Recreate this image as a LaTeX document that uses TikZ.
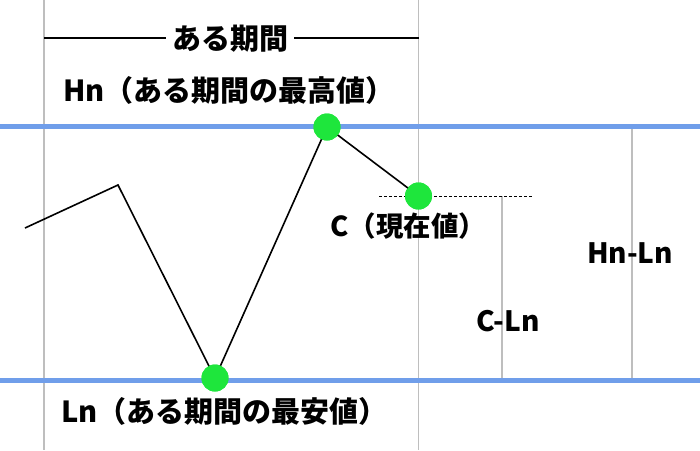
\documentclass[tikz,border=0pt]{standalone}
\usepackage{fontspec}
\newfontfamily\jp{Noto Sans CJK JP}
\definecolor{bandblue}{RGB}{112,158,234}
\definecolor{dotgreen}{RGB}{30,230,60}
\definecolor{guidegray}{RGB}{190,190,190}
\begin{document}
\begin{tikzpicture}[x=1pt,y=-1pt,
  guide/.style={draw=guidegray,line width=1.8pt},
  band/.style={draw=bandblue,line width=5pt},
  price/.style={draw=black,line width=1.6pt,line join=miter},
  dot/.style={circle,fill=dotgreen,inner sep=0pt,minimum size=27pt},
  lbl/.style={font=\jp\bfseries\fontsize{29}{32}\selectfont,inner sep=0pt,text=black},
  lblc/.style={font=\jp\bfseries\fontsize{27.5}{32}\selectfont,inner sep=0pt,text=black},
  lblsm/.style={font=\jp\bfseries\fontsize{28}{32}\selectfont,inner sep=0pt,text=black}]
\useasboundingbox (0,0) rectangle (700,450);
\fill[white] (0,0) rectangle (700,450);
% full-height guides
\coordinate (g1t) at (44,0);   \coordinate (g1b) at (44,450);
\coordinate (g2t) at (418.5,0); \coordinate (g2b) at (418.5,450);
\draw[guide] (g1t) -- (g1b);
\draw[guide] (g2t) -- (g2b);
% range guides
\coordinate (c1t) at (502,196); \coordinate (c1b) at (502,380);
\coordinate (c2t) at (632,128); \coordinate (c2b) at (632,380);
\draw[guide] (c1t) -- (c1b);
\draw[guide] (c2t) -- (c2b);
% blue bands
\coordinate (hl) at (0,126); \coordinate (hr) at (700,126);
\coordinate (ll) at (0,380); \coordinate (lr) at (700,380);
\draw[band] (hl) -- (hr);
\draw[band] (ll) -- (lr);
% period line
\coordinate (pl) at (44,38); \coordinate (pr) at (418.5,38);
\draw[black,line width=1.5pt] (pl) -- (pr);
\node[lbl,fill=white,inner xsep=6pt] (period) at (230,39) {ある期間};
% dashed level of C
\coordinate (dl) at (379,196); \coordinate (dr) at (533,196);
\draw[black,line width=0.8pt,dash pattern=on 3pt off 2pt] (dl) -- (dr);
% price path
\coordinate (p0) at (25,228);
\coordinate (p1) at (118,185);
\node[dot] (lo) at (215,378) {};
\node[dot] (hi) at (327,127) {};
\node[dot] (cur) at (418.5,196) {};
\draw[price] (p0) -- (p1) -- (lo.center) -- (hi.center) -- (cur.center);
\node[dot] at (lo) {};
\node[dot] at (hi) {};
\node[dot] at (cur) {};
% labels
\node[lbl,anchor=west] (hn) at (63,90) {Hn（ある期間の最高値）};
\node[lbl,anchor=west] (ln) at (61,411) {Ln（ある期間の最安値）};
\node[lblc,anchor=west] (cl) at (330,226) {C（現在値）};
\node[lblsm] (cln) at (508,321) {C-Ln};
\node[lblsm] (hnln) at (630,253) {Hn-Ln};
\end{tikzpicture}
\end{document}
